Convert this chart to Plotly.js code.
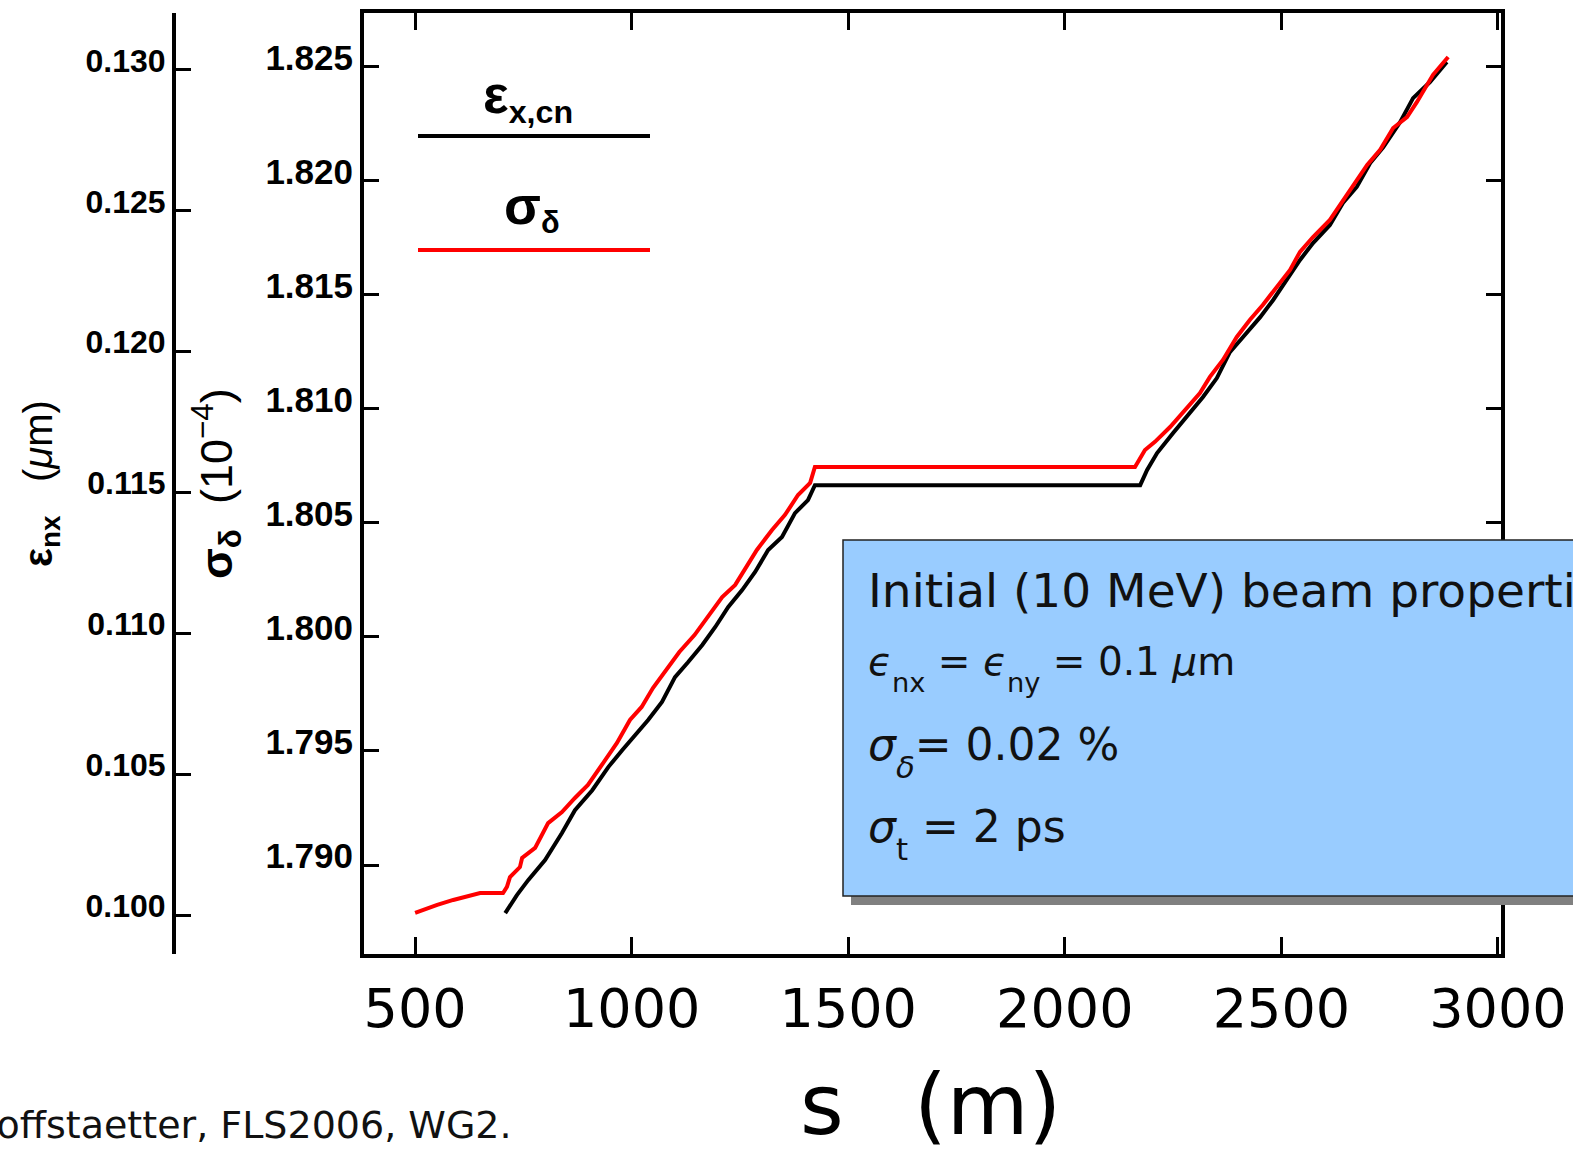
<!DOCTYPE html>
<html><head><meta charset="utf-8">
<script src="https://cdn.plot.ly/plotly-3.0.1.min.js"></script>
<style>html,body{margin:0;padding:0;background:#fff;overflow:hidden}#chart{width:1573px;height:1153px}</style>
</head><body><div id="chart"></div>
<script>
// ---- data ----
const sRed = [500,518,551,588,627,650,703,712,719,742,747,777,807,839,869,899,934,966,996,1023,1049,1083,1110,1145,1175,1209,1239,1262,1289,1324,1354,1384,1412,1423,2162,2185,2208,2243,2282,2312,2335,2365,2397,2427,2457,2489,2520,2543,2573,2612,2635,2665,2698,2728,2758,2790,2813,2850,2885];
const sigmaDelta = [1.78790,1.78803,1.78825,1.78847,1.78868,1.78877,1.78877,1.78904,1.78947,1.78991,1.79031,1.79075,1.79184,1.79232,1.79294,1.79351,1.79447,1.79535,1.79636,1.79693,1.79776,1.79868,1.79934,1.80008,1.80087,1.80175,1.80228,1.80302,1.80381,1.80469,1.80535,1.80622,1.80675,1.80745,1.80745,1.80819,1.80855,1.80920,1.81008,1.81069,1.81140,1.81214,1.81315,1.81389,1.81455,1.81534,1.81609,1.81688,1.81753,1.81828,1.81894,1.81973,1.82069,1.82135,1.82231,1.82279,1.82345,1.82464,1.82542];
const sBlack = [708,735,761,800,839,869,909,946,978,1008,1038,1070,1100,1130,1163,1193,1223,1255,1285,1315,1347,1377,1407,1423,2174,2190,2213,2250,2289,2319,2351,2381,2411,2451,2481,2513,2543,2573,2612,2642,2674,2705,2735,2774,2804,2843,2882];
const epsNx = [0.10007,0.10071,0.10124,0.10195,0.10291,0.10372,0.10443,0.10525,0.10585,0.10639,0.10692,0.10756,0.10844,0.10897,0.10958,0.11022,0.11093,0.11153,0.11217,0.11295,0.11341,0.11426,0.11472,0.11525,0.11525,0.11579,0.11639,0.11710,0.11781,0.11838,0.11905,0.11997,0.12050,0.12121,0.12182,0.12253,0.12324,0.12384,0.12448,0.12526,0.12583,0.12668,0.12724,0.12813,0.12898,0.12955,0.13026];
const sTicks = [500,1000,1500,2000,2500,3000];
const sTickText = ['500','1000','1500','2000','2500','3000'];
const sigmaTicks = [1.790,1.795,1.800,1.805,1.810,1.815,1.820,1.825];
const sigmaTickText = ['1.790','1.795','1.800','1.805','1.810','1.815','1.820','1.825'];
const epsTicks = [0.100,0.105,0.110,0.115,0.120,0.125,0.130];
const epsTickText = ['0.100','0.105','0.110','0.115','0.120','0.125','0.130'];
const legendLabels = ['<span style="font-size:54px">ε</span><sub>x,cn</sub>','<span style="font-size:54px">σ</span><sub>δ</sub>'];
const SUB = s => '<sub><span style="baseline-shift:-9px">' + s + '</span></sub>';
const boxLines = [
  'Initial (10 MeV) beam properties',
  '<i>ϵ</i>' + SUB('nx') + ' = <i>ϵ</i>' + SUB('ny') + ' = 0.1 <i>μ</i>m',
  '<i>σ</i>' + SUB('<i>δ</i>') + '= 0.02 %',
  '<i>σ</i>' + SUB('t') + ' = 2 ps'
];

// ---- layout geometry ----
const W = 1573, H = 1153, ML = 0, MR = 72, MT = 13, MB = 199;
const PW = W - ML - MR, PH = H - MT - MB;
const px = v => (v - ML) / PW;
const py = v => (H - MB - v) / PH;

const traces = [
  {x: sBlack, y: epsNx, xaxis: 'x', yaxis: 'y', mode: 'lines', name: 'ε x,cn',
   line: {color: '#000000', width: 4}, showlegend: false, hoverinfo: 'skip'},
  {x: sRed, y: sigmaDelta, xaxis: 'x', yaxis: 'y2', mode: 'lines', name: 'σ δ',
   line: {color: '#ff0000', width: 4}, showlegend: false, hoverinfo: 'skip'}
];

const axisCommon = {showgrid: false, zeroline: false, showline: true, linecolor: '#000',
  ticks: 'inside', tickcolor: '#000', tickwidth: 3, automargin: false, fixedrange: true};

const ann = (text, x, y, font, extra) => Object.assign({
  text, x: px(x), y: py(y), xref: 'paper', yref: 'paper', showarrow: false,
  xanchor: 'center', yanchor: 'middle', font: Object.assign({color: '#000'}, font)}, extra || {});

const boxFont = {family: 'DejaVu Sans', size: 44, color: '#111'};

const layout = {
  width: W, height: H,
  margin: {l: ML, r: MR, t: MT, b: MB, pad: 0},
  paper_bgcolor: '#fff', plot_bgcolor: '#fff',
  showlegend: false,
  xaxis: Object.assign({}, axisCommon, {
    domain: [px(364), 1], range: [382, 3007], anchor: 'y',
    tickmode: 'array', tickvals: sTicks, ticktext: sTickText,
    ticklen: 17, linewidth: 4, mirror: 'ticks',
    tickfont: {family: 'DejaVu Sans', size: 54, color: '#000'}, ticklabelstandoff: 4
  }),
  yaxis: Object.assign({}, axisCommon, {
    domain: [0, 1], range: [0.09862, 0.13200], anchor: 'free', position: px(174), side: 'left',
    tickmode: 'array', tickvals: epsTicks, ticktext: epsTickText,
    ticklen: 15, linewidth: 4,
    tickfont: {family: 'Liberation Sans', size: 32, color: '#000', weight: 'bold'},
    ticklabelshift: -9, ticklabelstandoff: 0
  }),
  yaxis2: Object.assign({}, axisCommon, {
    overlaying: 'y', anchor: 'x', side: 'left', range: [1.78610, 1.82735],
    tickmode: 'array', tickvals: sigmaTicks, ticktext: sigmaTickText,
    ticklen: 15, linewidth: 4, mirror: 'ticks',
    tickfont: {family: 'Liberation Sans', size: 35, color: '#000', weight: 'bold'},
    ticklabelshift: -9, ticklabelstandoff: 0
  }),
  shapes: [
    {type: 'line', xref: 'paper', yref: 'paper', x0: px(418), x1: px(650), y0: py(136), y1: py(136),
     line: {color: '#000', width: 4}},
    {type: 'line', xref: 'paper', yref: 'paper', x0: px(418), x1: px(650), y0: py(250), y1: py(250),
     line: {color: '#ff0000', width: 4}},
    {type: 'rect', xref: 'paper', yref: 'paper', x0: px(851), x1: px(1700), y0: py(905), y1: py(548),
     fillcolor: '#808080', line: {width: 0}, layer: 'above'},
    {type: 'rect', xref: 'paper', yref: 'paper', x0: px(843), x1: px(1690), y0: py(896), y1: py(540),
     fillcolor: '#99ccff', line: {color: '#222', width: 1.5}, layer: 'above'}
  ],
  annotations: [
    ann(legendLabels[0], 528, 97, {family: 'Liberation Sans', size: 46, weight: 'bold'}),
    ann(legendLabels[1], 532, 207, {family: 'Liberation Sans', size: 44, weight: 'bold'}),
    ann('<b>ε</b><sub><b>nx</b></sub>   (<i>μ</i>m)', 41, 484, {family: 'Liberation Sans', size: 40}, {textangle: -90}),
    ann('<b>σ</b><sub><b>δ</b></sub>  (10<sup>−4</sup>)', 216, 484, {family: 'Liberation Sans', size: 45}, {textangle: -90}),
    ann('s\u00a0\u00a0\u2009(m)', 930, 1105, {family: 'DejaVu Sans', size: 84}),
    ann('Hoffstaetter, FLS2006, WG2.', 514, 1125, {family: 'DejaVu Sans', size: 38, color: '#111'}, {xanchor: 'right'}),
    ann(boxLines[0], 866, 591, {family: 'DejaVu Sans', size: 47, color: '#111'}, {xanchor: 'left'}),
    ann(boxLines[1], 866, 668, {family: 'DejaVu Sans', size: 39, color: '#111'}, {xanchor: 'left'}),
    ann(boxLines[2], 866, 752, boxFont, {xanchor: 'left'}),
    ann(boxLines[3], 866, 834, boxFont, {xanchor: 'left'})
  ]
};

Plotly.newPlot('chart', traces, layout, {displayModeBar: false, staticPlot: true});
</script>
</body></html>
